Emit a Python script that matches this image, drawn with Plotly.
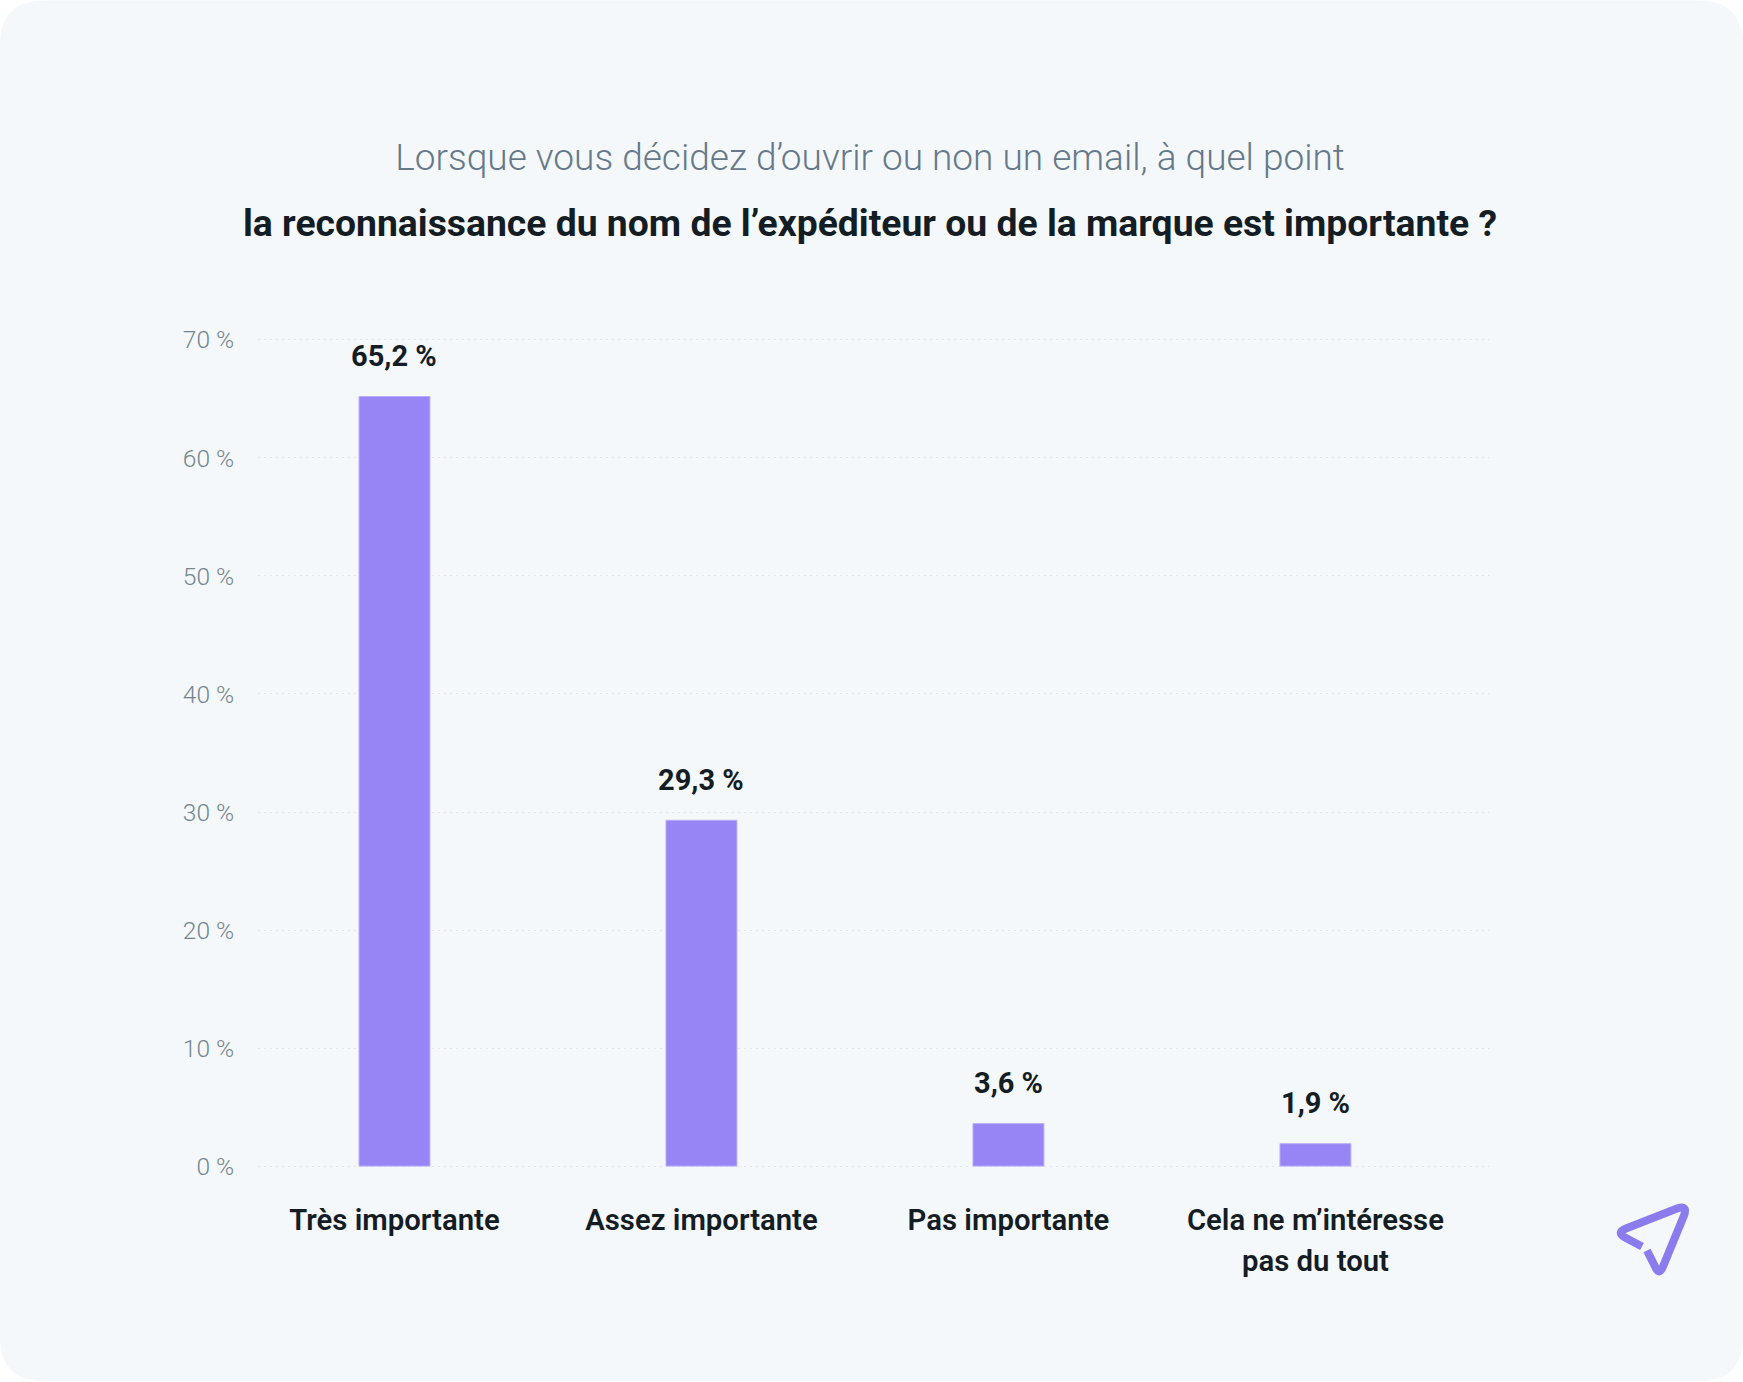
import plotly.graph_objects as go

# ---- Data ----
categories = ["Très importante", "Assez importante", "Pas importante", "Cela ne m’intéresse"]
second_line = "pas du tout"
values = [65.2, 29.3, 3.6, 1.9]
value_labels = ["65,2 %", "29,3 %", "3,6 %", "1,9 %"]
y_ticks = [0, 10, 20, 30, 40, 50, 60, 70]
y_tick_labels = ["0 %", "10 %", "20 %", "30 %", "40 %", "50 %", "60 %", "70 %"]

title_top = "Lorsque vous décidez d’ouvrir ou non un email, à quel point"
title_bottom = "la reconnaissance du nom de l’expéditeur ou de la marque est importante ?"

# ---- Page geometry (pixels) ----
W, H = 1743, 1382
left, right, top, bottom = 258, 1489, 333.8, 1172.5  # half a point of headroom keeps the 0 and 70 gridlines
card_radius = 45

FONT = "Roboto"
DARK = "#141c24"


def px(x):
    return (x - left) / (right - left)


def py(y):
    return (bottom - y) / (bottom - top)


def p(x, y):
    return f"{px(x):.5f},{py(y):.5f}"


card_path = (
    f"M {p(card_radius, 0)} L {p(W - card_radius, 0)} Q {p(W, 0)} {p(W, card_radius)} "
    f"L {p(W, H - card_radius)} Q {p(W, H)} {p(W - card_radius, H)} "
    f"L {p(card_radius, H)} Q {p(0, H)} {p(0, H - card_radius)} "
    f"L {p(0, card_radius)} Q {p(0, 0)} {p(card_radius, 0)} Z"
)

# paper plane logo, corners rounded by hand
plane_path = (
    f"M {p(1642, 1247)} L {p(1625, 1238)} Q {p(1616, 1233)} {p(1626, 1229)} "
    f"L {p(1677, 1209)} Q {p(1688, 1205)} {p(1684, 1216)} "
    f"L {p(1663, 1267)} Q {p(1659, 1277)} {p(1655, 1267)} L {p(1647, 1251)}"
)

fig = go.Figure()

fig.add_trace(go.Bar(
    x=categories,
    y=values,
    width=0.231,
    marker=dict(color="#9885f5", line=dict(color="#b9acf9", width=1)),
    hoverinfo="skip",
))

# value labels sit well above the bars
for cat, val, label in zip(categories, values, value_labels):
    fig.add_annotation(
        x=cat, y=val, text=label, showarrow=False, yshift=40.5,
        font=dict(family=FONT, size=29, color=DARK, weight=700),
    )

fig.add_annotation(
    x=categories[3], y=0, text=second_line, showarrow=False, yshift=-95,
    font=dict(family=FONT, size=29.3, color=DARK, weight=600),
)

fig.add_annotation(
    xref="paper", yref="paper", x=px(870), y=py(223), yanchor="middle", text=title_bottom, showarrow=False,
    font=dict(family=FONT, size=37.3, color=DARK, weight=700),
)

fig.update_layout(
    width=W,
    height=H,
    autosize=False,
    showlegend=False,
    paper_bgcolor="#ffffff",
    plot_bgcolor="rgba(0,0,0,0)",
    margin=dict(l=left, r=W - right, t=top, b=H - bottom, pad=0),
    title=dict(
        text=title_top,
        x=870 / W, xanchor="center",
        y=1 - 157 / H, yanchor="middle",
        font=dict(family=FONT, size=37, color="#66788a", weight=300),
    ),
    shapes=[
        dict(type="path", xref="paper", yref="paper", path=card_path,
             fillcolor="#f4f8fb", line=dict(width=0), layer="below"),
        dict(type="path", xref="paper", yref="paper", path=plane_path,
             line=dict(color="#8b7ced", width=8), layer="above"),
    ],
)

fig.update_xaxes(
    type="category",
    range=[-0.4446, 3.5654],
    showgrid=False,
    zeroline=False,
    showline=False,
    ticks="outside",
    ticklen=22,
    tickcolor="rgba(0,0,0,0)",
    tickfont=dict(family=FONT, size=29.3, color=DARK, weight=600),
)

fig.update_yaxes(
    range=[-0.5, 70.5],
    tickmode="array",
    tickvals=y_ticks,
    ticktext=y_tick_labels,
    showgrid=True,
    gridcolor="#dfe4e8",
    griddash="1.5px,4.5px",
    gridwidth=1.2,
    zeroline=False,
    showline=False,
    ticks="outside",
    ticklen=18,
    tickcolor="rgba(0,0,0,0)",
    tickfont=dict(family=FONT, size=24.5, color="#75858f", weight=300),
)

# the page's default body margin would push the card off by 8px
fig.write_html(
    "out.html",
    config={"displayModeBar": False},
    post_script="document.body.style.margin='0';document.body.style.overflow='hidden';",
)
